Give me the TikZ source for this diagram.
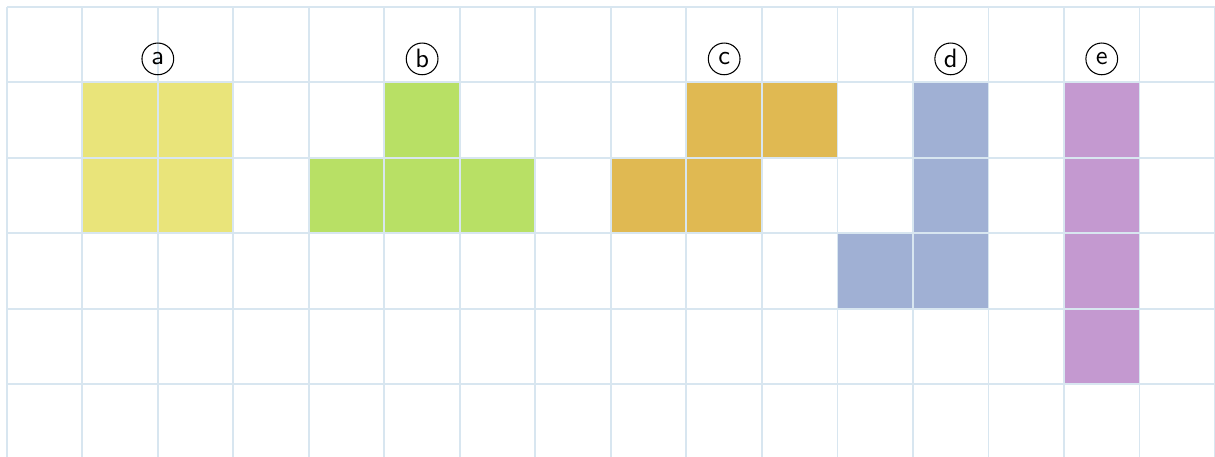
\documentclass[tikz,border=0pt]{standalone}
\usepackage{xcolor}
\usepackage{tikz}
\definecolor{gridblue}{HTML}{D8E6F0}
\definecolor{tileyellow}{HTML}{E9E47A}
\definecolor{tilegreen}{HTML}{B8E065}
\definecolor{tileorange}{HTML}{E0B952}
\definecolor{tileblue}{HTML}{A0B0D4}
\definecolor{tilepurple}{HTML}{C499D0}
\tikzset{
  gridline/.style={draw=gridblue,line width=0.7pt},
  tagnode/.style={draw,circle,thin,minimum size=0.42cm,inner sep=0pt,font=\sffamily},
}
\newcommand{\tile}[3]{\fill[#1] (#2,-#3) rectangle ++(1,-1);}

\begin{document}
\begin{tikzpicture}
        \useasboundingbox (-0.09,0.09) rectangle (16.0,-5.955);
        % pieces
        \foreach \c/\r in {1/1,2/1,1/2,2/2} {\tile{tileyellow}{\c}{\r}}
        \foreach \c/\r in {5/1,4/2,5/2,6/2} {\tile{tilegreen}{\c}{\r}}
        \foreach \c/\r in {9/1,10/1,8/2,9/2} {\tile{tileorange}{\c}{\r}}
        \foreach \c/\r in {12/1,12/2,12/3,11/3} {\tile{tileblue}{\c}{\r}}
        \foreach \c/\r in {14/1,14/2,14/3,14/4} {\tile{tilepurple}{\c}{\r}}
        % grid
        \foreach \x in {0,...,16} \draw[gridline] (\x,0) -- (\x,-6);
        \foreach \y in {0,...,6} \draw[gridline] (0,-\y) -- (16,-\y);
        % labels
        \node[tagnode] (ta) at (2,-0.69) {a};
        \node[tagnode] (tb) at (5.5,-0.69) {b};
        \node[tagnode] (tc) at (9.5,-0.69) {c};
        \node[tagnode] (td) at (12.5,-0.69) {d};
        \node[tagnode] (te) at (14.5,-0.69) {e};
      \end{tikzpicture}
\end{document}
